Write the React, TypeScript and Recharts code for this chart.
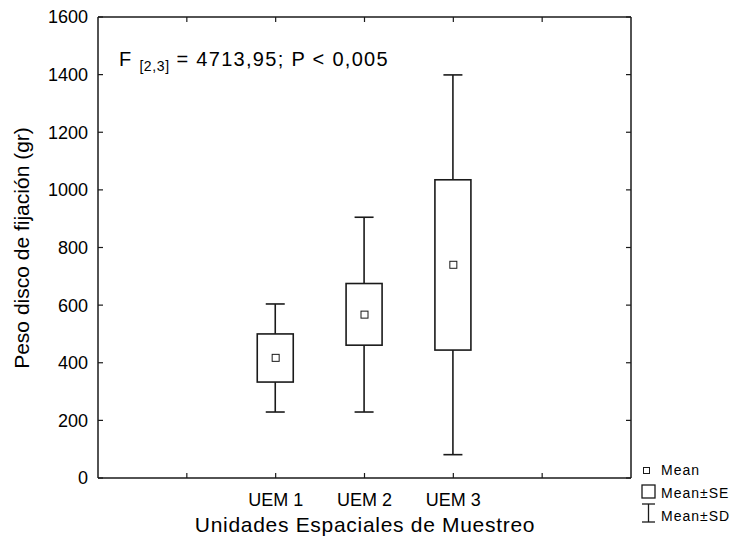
import { ComposedChart, Bar, Scatter, XAxis, YAxis } from 'recharts';

// Peso disco de fijación by spatial sampling unit (mean, ±SE box, ±SD whiskers)
const categories = ['UEM 1', 'UEM 2', 'UEM 3'];
const positions = [2, 3, 4];
const means = [417, 567, 740];
const seLow = [333, 461, 444];
const seHigh = [500, 675, 1035];
const sdLow = [229, 229, 81];
const sdHigh = [604, 905, 1399];

const xTicks = [1, 2, 3, 4, 5];
const yTicks = [0, 200, 400, 600, 800, 1000, 1200, 1400, 1600];

const data = categories.map((name, i) => ({
  name,
  x: positions[i],
  mean: means[i],
  seLow: seLow[i],
  seHigh: seHigh[i],
  sdLow: sdLow[i],
  sdHigh: sdHigh[i],
  sd: [sdLow[i], sdHigh[i]],
}));

const INK = '#1a1a1a';
const FONT = '"Liberation Sans", Arial, sans-serif';

const labelAt = (v: number) => {
  const i = positions.indexOf(v);
  return i >= 0 ? categories[i] : '';
};

// whiskers + SE box, using the bar's own pixel scale
function BoxShape(props: any) {
  const { x, y, width, height, payload } = props;
  const lo = payload.sdLow;
  const hi = payload.sdHigh;
  const k = height / (hi - lo);
  const py = (v: number) => y + (hi - v) * k;
  const cx = x + width / 2;
  const cap = 9.5;
  return (
    <g>
      <line x1={cx} x2={cx} y1={py(hi)} y2={py(lo)} stroke={INK} strokeWidth={1.6} />
      <line x1={cx - cap} x2={cx + cap} y1={py(hi)} y2={py(hi)} stroke={INK} strokeWidth={1.6} />
      <line x1={cx - cap} x2={cx + cap} y1={py(lo)} y2={py(lo)} stroke={INK} strokeWidth={1.6} />
      <rect
        x={x}
        y={py(payload.seHigh)}
        width={width}
        height={py(payload.seLow) - py(payload.seHigh)}
        fill="#fff"
        stroke={INK}
        strokeWidth={1.6}
      />
    </g>
  );
}

function MeanShape(props: any) {
  const { cx, cy } = props;
  return <rect x={cx - 3.5} y={cy - 3.5} width={7} height={7} fill="#fff" stroke={INK} strokeWidth={1} />;
}

const Nothing = () => <g />;

const tickStyle = { fontSize: 18, fill: '#000', fontFamily: FONT };
const frameLine = { stroke: INK, strokeWidth: 1.5 };
const tickLine = { stroke: INK, strokeWidth: 1.2 };

export default function App() {
  return (
    <div style={{ position: 'absolute', left: 0, top: 0, width: 736, height: 547, background: '#fff', fontFamily: FONT }}>
      <ComposedChart
        width={736}
        height={547}
        data={data}
        margin={{ top: 16, right: 104, bottom: 0, left: 0 }}
      >
        <XAxis
          dataKey="x"
          type="number"
          domain={[0, 6]}
          ticks={xTicks}
          tickFormatter={labelAt}
          height={69}
          tickSize={-5}
          tickMargin={20}
          tick={tickStyle}
          axisLine={frameLine}
          tickLine={tickLine}
        />
        <XAxis
          xAxisId="top"
          dataKey="x"
          orientation="top"
          type="number"
          domain={[0, 6]}
          ticks={xTicks}
          tickFormatter={() => ''}
          height={1}
          tickSize={-5}
          axisLine={frameLine}
          tickLine={tickLine}
        />
        <YAxis
          type="number"
          domain={[0, 1600]}
          ticks={yTicks}
          width={98}
          tickSize={-5}
          tickMargin={15}
          tick={tickStyle}
          axisLine={frameLine}
          tickLine={tickLine}
        />
        <YAxis
          yAxisId="right"
          orientation="right"
          type="number"
          domain={[0, 1600]}
          ticks={yTicks}
          tickFormatter={() => ''}
          width={1}
          tickSize={-5}
          axisLine={frameLine}
          tickLine={tickLine}
        />
        <Bar dataKey="sd" barSize={36} shape={<BoxShape />} isAnimationActive={false} />
        <Scatter dataKey="mean" shape={<MeanShape />} isAnimationActive={false} />
        {/* invisible series so the top/right frame axes are drawn */}
        <Scatter
          xAxisId="top"
          yAxisId="right"
          dataKey="mean"
          shape={<Nothing />}
          isAnimationActive={false}
        />
      </ComposedChart>

      <svg
        width={736}
        height={547}
        style={{ position: 'absolute', left: 0, top: 0, pointerEvents: 'none', fontFamily: FONT }}
      >
        <text x={119} y={66} fontSize={20} letterSpacing={1.3} fill="#000">
          <tspan>F </tspan>
          <tspan dy={5} fontSize={14} letterSpacing={0.6}>[2,3]</tspan>
          <tspan dy={-5}> = 4713,95; P &lt; 0,005</tspan>
        </text>

        <text x={365} y={532} fontSize={21} letterSpacing={0.7} textAnchor="middle" fill="#000">
          Unidades Espaciales de Muestreo
        </text>
        <text x={29} y={248} fontSize={21} textAnchor="middle" fill="#000" transform="rotate(-90 29 248)">
          Peso disco de fijación (gr)
        </text>

        {/* legend */}
        <rect x={643.5} y={467.5} width={6} height={6} fill="#fff" stroke={INK} strokeWidth={1} />
        <text x={661} y={475} fontSize={14} letterSpacing={1} fill="#000">Mean</text>
        <rect x={642} y={485} width={13} height={13} fill="#fff" stroke={INK} strokeWidth={1.3} />
        <text x={661} y={498} fontSize={14} letterSpacing={1} fill="#000">Mean±SE</text>
        <line x1={648.5} x2={648.5} y1={504} y2={522} stroke={INK} strokeWidth={1.3} />
        <line x1={642} x2={655} y1={504} y2={504} stroke={INK} strokeWidth={1.3} />
        <line x1={642} x2={655} y1={522} y2={522} stroke={INK} strokeWidth={1.3} />
        <text x={661} y={521} fontSize={14} letterSpacing={1} fill="#000">Mean±SD</text>
      </svg>
    </div>
  );
}
